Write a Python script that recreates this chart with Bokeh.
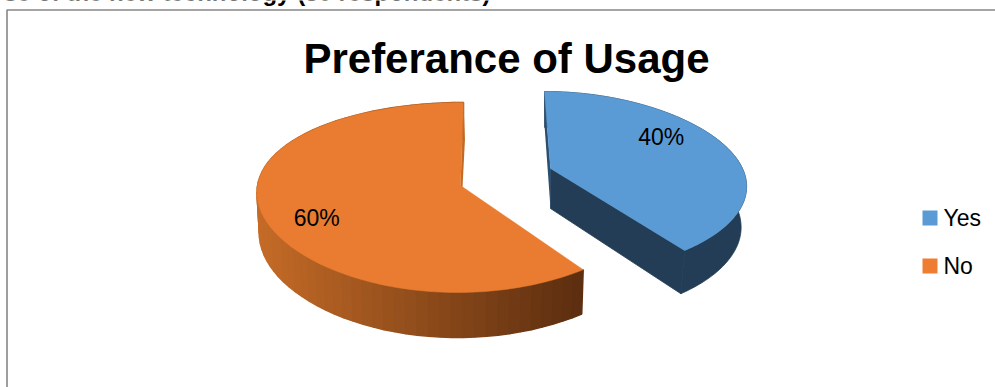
import numpy as np
from bokeh.core.properties import value
from bokeh.embed import file_html
from bokeh.models import Range1d
from bokeh.plotting import figure
from bokeh.resources import INLINE

# Survey result
categories = ["Yes", "No"]
shares = [40, 60]
chart_title = "Preferance of Usage"
caption = "Use of the new technology (50 respondents)"

top_colors = {"Yes": "#5B9BD5", "No": "#E97C30"}
key_colors = {"Yes": "#5B9BD5", "No": "#EE7D31"}

SANS = value("Liberation Sans")

# Perspective parameters of each exploded slice, in screen pixels
views = {
    "Yes": dict(cx=550, cy=168, rx=192, kx=0.18, lean=6, b=88.8, k=0.153,
                d0=40, d1=4, shrink=0.028, label=(0.63, -0.37)),
    "No": dict(cx=460, cy=185, rx=203, kx=0.06, lean=-3, b=93.5, k=0.126,
               d0=41, d1=4, shrink=0.012, label=(-0.69, 0.33)),
}


def top_point(view, u, v):
    x = view["cx"] + view["rx"] * u * (1 + view["kx"] * v) + view["lean"] * v
    y = view["cy"] + view["b"] * v / (1 - view["k"] * v)
    return x, y


def bottom_point(view, u, v):
    x, y = top_point(view, u, v)
    return x - view["shrink"] * (x - view["cx"]), y + view["d0"] + view["d1"] * v


def rim(view, a0, a1, fn, n=160):
    t = np.linspace(a0, a1, n)
    return fn(view, np.sin(t), -np.cos(t))


p = figure(width=995, height=387, output_backend="svg", toolbar_location=None,
           x_range=Range1d(0, 995), y_range=Range1d(387, 0), min_border=0,
           outline_line_color=None, background_fill_color="white")
p.axis.visible = False
p.grid.visible = False

# Chart frame: only the top and left edges fall inside the page
p.line([6.5, 6.5, 995], [387, 9.5, 9.5], line_color="#868686", line_width=1.6)

p.text([490], [-8], text=[caption], text_font=SANS, text_font_style="bold",
       text_font_size="24px", text_align="right", text_baseline="alphabetic", text_color="black")

# Slice angles follow the shares, clockwise from twelve o'clock
edges = 2 * np.pi * np.cumsum([0] + shares) / sum(shares)
spans = {c: (edges[i], edges[i + 1]) for i, c in enumerate(categories)}

# "No" slice: shaded outer wall, then the thin visible inner wall
view = views["No"]
a0, a1 = spans["No"]
t = np.linspace(a0, a1, 70)
xs, ys, cols = [], [], []
for t0, t1 in zip(t[:-1], t[1:]):
    tx0, ty0 = top_point(view, np.sin(t0), -np.cos(t0))
    tx1, ty1 = top_point(view, np.sin(t1), -np.cos(t1))
    bx0, by0 = bottom_point(view, np.sin(t0), -np.cos(t0))
    bx1, by1 = bottom_point(view, np.sin(t1), -np.cos(t1))
    mix = np.clip((tx0 - 257) / (583 - 257), 0, 1)
    rgb = np.array([198, 108, 40]) * (1 - mix) + np.array([93, 47, 16]) * mix
    xs.append([tx0, tx1, bx1, bx0])
    ys.append([ty0, ty1, by1, by0])
    cols.append("#%02x%02x%02x" % tuple(int(c) for c in rgb))
p.patches(xs[::-1], ys[::-1], fill_color=cols[::-1], line_color=cols[::-1], line_width=1.5)

bx, by = bottom_point(view, np.sin(a1), -np.cos(a1))
tx, ty = top_point(view, np.sin(a1), -np.cos(a1))
cbx, cby = bottom_point(view, 0, 0)
cx0, cy0 = top_point(view, 0, 0)
p.patch([tx, bx + 1.5, cbx, cx0], [ty, by, cby, cy0], fill_color="#C06A25", line_color=None)

tx_rim, ty_rim = rim(view, a0, a1, top_point)
p.patch(np.r_[cx0, tx_rim], np.r_[cy0, ty_rim], fill_color=top_colors["No"],
        line_color=top_colors["No"], line_width=0.5)

# "Yes" slice: dark walls first, top face over them
view = views["Yes"]
a0, a1 = spans["Yes"]
tx_rim, ty_rim = rim(view, a0, a1, top_point)
bx_rim, by_rim = rim(view, a0, a1, bottom_point)
cx0, cy0 = top_point(view, 0, 0)
cbx, cby = bottom_point(view, 0, 0)
wall = "#223D55"
p.patch(np.r_[tx_rim, bx_rim[::-1]], np.r_[ty_rim, by_rim[::-1]], fill_color=wall,
        line_color=wall, line_width=0.8)
p.patch([cx0, tx_rim[-1], bx_rim[-1], cbx], [cy0, ty_rim[-1], by_rim[-1], cby],
        fill_color=wall, line_color=wall, line_width=0.8)
p.patch([tx_rim[0], bx_rim[0], cbx, cx0], [ty_rim[0], by_rim[0], cby, cy0],
        fill_color="#2A4E6E", line_color=None)
p.patch(np.r_[cx0, tx_rim], np.r_[cy0, ty_rim], fill_color=top_colors["Yes"],
        line_color=top_colors["Yes"], line_width=0.5)

# Percentage labels
for c, share in zip(categories, shares):
    lx, ly = top_point(views[c], *views[c]["label"])
    p.text([lx], [ly], text=[f"{share}%"], text_font=SANS, text_font_size="23px",
           text_align="center", text_baseline="middle", text_color="black")

p.text([506], [58], text=[chart_title], text_font=SANS, text_font_style="bold",
       text_font_size="42px", text_align="center", text_baseline="middle", text_color="black")

# Legend
key_rows = [217.5, 265.5]
p.rect([929.5] * 2, key_rows, width=15, height=15, fill_color=[key_colors[c] for c in categories], line_color=None)
p.text([943] * 2, key_rows, text=categories, text_font=SANS, text_font_size="23px",
       text_align="left", text_baseline="middle", text_color="black")

open("out.html", "w").write(file_html(p, INLINE))
